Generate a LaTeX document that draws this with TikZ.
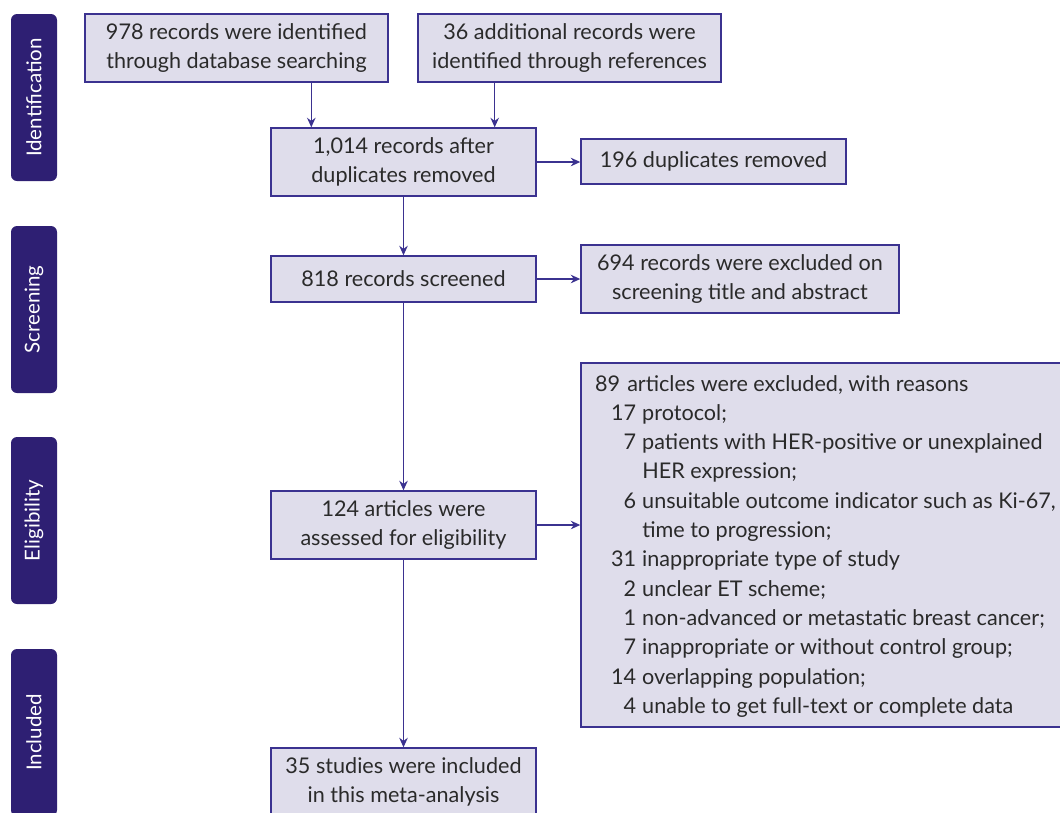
\documentclass[tikz,border=0pt]{standalone}
\usepackage{fontspec}
\setmainfont{Lato}
\usetikzlibrary{arrows.meta}
\definecolor{labfill}{HTML}{2E1F73}
\definecolor{boxfill}{HTML}{DFDDEB}
\definecolor{boxline}{HTML}{3B3290}
\definecolor{txt}{HTML}{2A2A2A}
\begin{document}
\begin{tikzpicture}[x=1pt,y=-1pt,
  box/.style={draw=boxline,fill=boxfill,line width=1.4pt,text=txt,align=center,inner sep=0pt,
    font=\fontsize{21.6}{29}\selectfont},
  phase/.style={fill=labfill,rounded corners=6pt,text=white,rotate=90,
    minimum width=167pt,minimum height=46pt,inner sep=0pt,font=\fontsize{20.5}{22}\selectfont},
  arr/.style={draw=boxline,line width=1.4pt,-{Stealth[length=9.5pt,width=8.5pt]}}]
\useasboundingbox (0,0) rectangle (1060,812);
% phase labels
\node[phase] (p1) at (34,97.5) {Identification};
\node[phase] (p2) at (34,309.5) {Screening};
\node[phase] (p3) at (34,520.5) {Eligibility};
\node[phase] (p4) at (34,732.5) {Included};
% boxes
\node[box,minimum width=303pt,minimum height=68pt] (A) at (236.5,48) {978 records were identified\\through database searching};
\node[box,minimum width=303pt,minimum height=68pt] (B) at (569.5,48) {36 additional records were\\identified through references};
\node[box,minimum width=265pt,minimum height=68pt] (C) at (403.5,162) {1,014 records after\\duplicates removed};
\node[box,minimum width=265pt,minimum height=45pt] (D) at (713.5,161.5) {196 duplicates removed};
\node[box,minimum width=265pt,minimum height=46pt] (E) at (403.5,279) {818 records screened};
\node[box,minimum width=318pt,minimum height=68pt] (F) at (740,279) {694 records were excluded on\\screening title and abstract};
\node[box,minimum width=265pt,minimum height=68pt] (G) at (403.5,525) {124 articles were\\assessed for eligibility};
\node[box,minimum width=484pt,minimum height=364pt] (H) at (823,545) {};
\node[box,minimum width=265pt,minimum height=68pt] (I) at (403.5,782) {35 studies were included\\in this meta-analysis};
% exclusion list
\node[anchor=base west,inner sep=0pt,text=txt,font=\fontsize{21.6}{29.3}\selectfont] (HL) at (595,391)
{\begin{tabular}[t]{@{\hspace{16pt}}r@{\hspace{6pt}}l@{}}
\multicolumn{2}{@{}l@{}}{89\hspace{7pt}articles were excluded, with reasons}\\
17 & protocol;\\
7 & patients with HER-positive or unexplained\\
 & HER expression;\\
6 & unsuitable outcome indicator such as Ki-67,\\
 & time to progression;\\
31 & inappropriate type of study\\
2 & unclear ET scheme;\\
1 & non-advanced or metastatic breast cancer;\\
7 & inappropriate or without control group;\\
14 & overlapping population;\\
4 & unable to get full-text or complete data
\end{tabular}};
% connectors
\draw[arr] ([xshift=41pt]C.north west |- A.south) -- ([xshift=41pt]C.north west);
\draw[arr] ([xshift=-42pt]C.north east |- B.south) -- ([xshift=-42pt]C.north east);
\draw[arr] (C.east) -- (C.east -| D.west);
\draw[arr] (C.south) -- (E.north);
\draw[arr] (E.east) -- (E.east -| F.west);
\draw[arr] (E.south) -- (G.north);
\draw[arr] (G.east) -- (G.east -| H.west);
\draw[arr] (G.south) -- (I.north);
\end{tikzpicture}
\end{document}
